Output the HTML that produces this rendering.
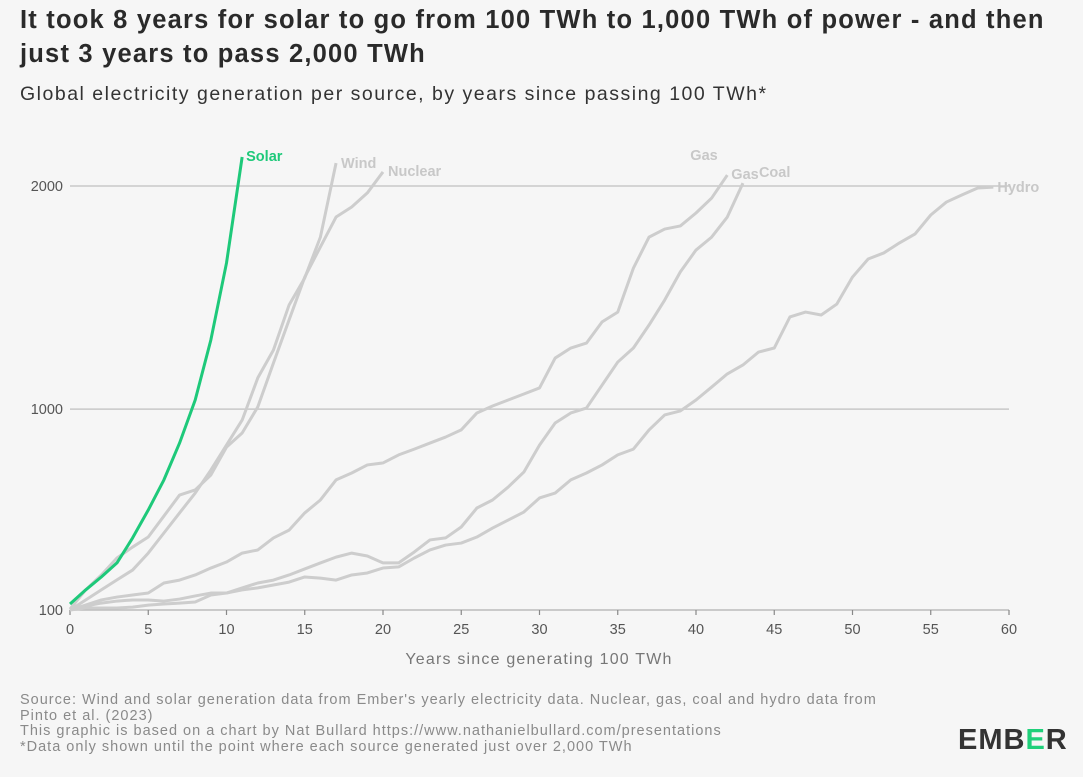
<!DOCTYPE html>
<html><head><meta charset="utf-8">
<style>
body{margin:0;background:#f6f6f6;font-family:"Liberation Sans",sans-serif;}
#wrap{position:relative;width:1083px;height:777px;overflow:hidden;background:#f6f6f6;}
.t{position:absolute;white-space:nowrap;}
</style></head><body>
<div id="wrap">
<div class="t" style="left:20px;top:3px;font-size:25.5px;letter-spacing:1.2px;font-weight:bold;color:#2a2a2a;line-height:34px;">It took 8 years for solar to go from 100 TWh to 1,000 TWh of power - and then<br>just 3 years to pass 2,000 TWh</div>
<div class="t" style="left:20px;top:83px;font-size:19.5px;letter-spacing:1.5px;color:#333;">Global electricity generation per source, by years since passing 100 TWh*</div>
<svg id="chart" width="1083" height="680" style="position:absolute;left:0;top:0" font-family="Liberation Sans, sans-serif"></svg>
<div class="t" style="left:20px;top:693px;font-size:14.5px;letter-spacing:1px;color:#8a8a8a;line-height:15.5px;">Source: Wind and solar generation data from Ember's yearly electricity data. Nuclear, gas, coal and hydro data from<br>Pinto et al. (2023)<br>This graphic is based on a chart by Nat Bullard https://www.nathanielbullard.com/presentations<br>*Data only shown until the point where each source generated just over 2,000 TWh</div>
<div class="t" style="left:958px;top:724px;font-size:29px;font-weight:bold;color:#333;letter-spacing:1px;">EMB<span style="color:#1fd07a">E</span>R</div>
</div>
<script>
const years = [0,5,10,15,20,25,30,35,40,45,50,55,60];
const yTicks = [100,1000,2000];
const solar = [127,190,248,311,423,548,683,848,1041,1310,1655,2130];
const wind = [100,145,190,235,279,355,445,535,624,727,839,951,1140,1265,1467,1588,1771,2103];
const nuclear = [104,190,257,333,382,427,521,615,638,705,830,893,1010,1207,1400,1592,1727,1861,1906,1969,2063];
const gas = [100,122,145,158,167,176,221,234,257,288,315,355,369,423,458,535,593,683,714,750,759,795,821,848,875,907,983,1014,1041,1068,1095,1229,1274,1296,1391,1435,1632,1771,1807,1821,1879,1946,2049];
const coal = [100,118,131,140,145,145,140,149,163,176,176,199,221,234,257,284,311,337,355,342,311,311,360,414,423,472,557,593,651,718,839,938,983,1005,1108,1211,1274,1377,1489,1615,1713,1771,1861,2013];
const hydro = [100,109,109,109,113,122,127,131,136,167,176,190,199,212,225,248,243,234,257,266,288,293,333,369,391,400,427,467,503,539,602,624,683,714,750,795,821,907,974,992,1041,1099,1158,1198,1256,1274,1413,1435,1422,1471,1592,1673,1700,1745,1785,1870,1928,1960,1991,1995];

const svg = document.getElementById('chart');
const NS = 'http://www.w3.org/2000/svg';
const x = v => 70 + v * (1009 - 70) / 60;
const y = v => 610 - (v - 100) * (610 - 186) / 1900;
function mk(tag, attrs){const e=document.createElementNS(NS,tag);for(const k in attrs)e.setAttribute(k,attrs[k]);svg.appendChild(e);return e;}

yTicks.forEach(t=>{
  if(t!==100){const g=mk('line',{x1:70,x2:1009,y1:y(t),y2:y(t),stroke:'#c8c8c8','stroke-width':1.5});
  
  }
  const l=mk('text',{x:63,y:y(t)+5,'text-anchor':'end','font-size':14.5,fill:'#555'});l.textContent=t;
  
  
});
const ax=mk('line',{x1:70,x2:1009,y1:610,y2:610,stroke:'#bbb','stroke-width':1.5});


years.forEach(t=>{
  const tk=mk('line',{x1:x(t),x2:x(t),y1:610,y2:615,stroke:'#888','stroke-width':1.2});
  
  
  const l=mk('text',{x:x(t),y:634,'text-anchor':'middle','font-size':14.5,fill:'#555'});l.textContent=t;
  
  
});
const xt=mk('text',{x:539,y:664,'text-anchor':'middle','font-size':16,fill:'#777','letter-spacing':1.2});xt.textContent='Years since generating 100 TWh';



function series(data,name,color,w){
  const p=mk('polyline',{points:data.map((v,i)=>x(i)+','+y(v)).join(' '),fill:'none',stroke:color,'stroke-width':w,'stroke-linejoin':'round'});
  
  
}
series(hydro,'hydro','#cdcdcd',3);
series(coal,'coal','#cdcdcd',3);
series(gas,'gas','#cdcdcd',3);
series(nuclear,'nuclear','#cdcdcd',3);
series(wind,'wind','#cdcdcd',3);
series(solar,'solar','#1ec97a',3);

function label(txt,data,dx,dy,color,bold,name){
  const n=data.length-1;
  const t=mk('text',{x:x(n)+dx,y:y(data[n])+dy,'font-size':14.5,fill:color,'font-weight':bold?'bold':'normal'});
  t.textContent=txt;
  
  
}
label('Solar',solar,4,4,'#1ec97a',true,'solar-label');
label('Wind',wind,5,5,'#c8c8c8',true,'wind-label');
label('Nuclear',nuclear,5,4,'#c8c8c8',true,'nuclear-label');
label('Gas',gas,-37,-15,'#c8c8c8',true,'gas-label');
label('Gas',gas,4,4,'#c8c8c8',true,'gas-label-2');
label('Coal',coal,16,-6,'#c8c8c8',true,'coal-label');
label('Hydro',hydro,4,5,'#c8c8c8',true,'hydro-label');
</script>
</body></html>
